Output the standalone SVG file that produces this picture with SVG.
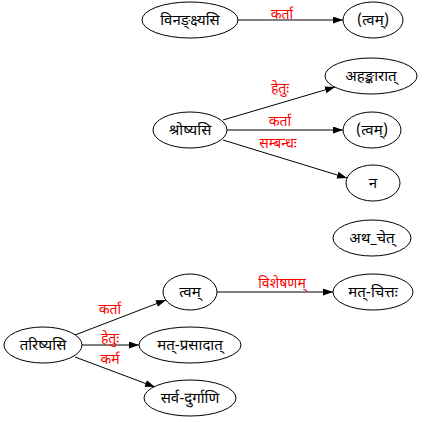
<svg xmlns="http://www.w3.org/2000/svg" width="425" height="422" viewBox="0 0 425 422">
<style>
.n ellipse{fill:#fff;stroke:#000;stroke-width:1}
text{font-family:"Noto Sans Devanagari","Noto Sans","DejaVu Sans",sans-serif;font-size:14px;text-anchor:middle;fill:#000}
.n text{font-size:15px}
.e line{stroke:#000;stroke-width:1;marker-end:url(#ah)}
.e text{fill:#ff0000}
</style>
<defs>
<marker id="ah" markerUnits="userSpaceOnUse" markerWidth="10" markerHeight="8" refX="10" refY="3.5" orient="auto">
<path d="M0,0 L10,3.5 L0,7 z" fill="#000"/>
</marker>
</defs>
<rect width="425" height="422" fill="#fff"/>
<g class="e" id="edges">
<line x1="238" y1="20" x2="343" y2="20"/>
<text x="282" y="19">कर्ता</text>
<line x1="223" y1="120" x2="335" y2="87"/>
<text x="280" y="93">हेतुः</text>
<line x1="227" y1="130" x2="343" y2="130"/>
<text x="280" y="126">कर्ता</text>
<line x1="223" y1="140" x2="347" y2="178"/>
<text x="278" y="148">सम्बन्धः</text>
<line x1="75" y1="335" x2="166" y2="300"/>
<text x="110" y="314">कर्ता</text>
<line x1="82" y1="345" x2="139" y2="345"/>
<text x="110" y="343">हेतुः</text>
<line x1="75" y1="357" x2="155" y2="387"/>
<text x="110" y="364">कर्म</text>
<line x1="217" y1="292" x2="333" y2="292"/>
<text x="282" y="288">विशेषणम्</text>
</g>
<g class="n" id="n1"><ellipse cx="190" cy="20" rx="48" ry="18"/><text x="190" y="25">विनङ्क्ष्यसि</text></g>
<g class="n" id="n2"><ellipse cx="373" cy="20" rx="30" ry="18"/><text x="373" y="25">(त्वम्)</text></g>
<g class="n" id="n3"><ellipse cx="190" cy="130" rx="37" ry="18"/><text x="190" y="135">श्रोष्यसि</text></g>
<g class="n" id="n4"><ellipse cx="371" cy="76" rx="46" ry="18"/><text x="371" y="81">अहङ्कारात्</text></g>
<g class="n" id="n5"><ellipse cx="372" cy="130" rx="29" ry="18"/><text x="372" y="135">(त्वम्)</text></g>
<g class="n" id="n6"><ellipse cx="373" cy="183" rx="27" ry="18"/><text x="373" y="188">न</text></g>
<g class="n" id="n7"><ellipse cx="372" cy="238" rx="39" ry="18"/><text x="372" y="243">अथ_चेत्</text></g>
<g class="n" id="n8"><ellipse cx="190" cy="292" rx="27" ry="18"/><text x="190" y="297">त्वम्</text></g>
<g class="n" id="n9"><ellipse cx="373" cy="292" rx="40" ry="18"/><text x="373" y="297">मत्-चित्तः</text></g>
<g class="n" id="n10"><ellipse cx="43" cy="345" rx="39" ry="18"/><text x="43" y="350">तरिष्यसि</text></g>
<g class="n" id="n11"><ellipse cx="190" cy="345" rx="51" ry="18"/><text x="190" y="350">मत्-प्रसादात्</text></g>
<g class="n" id="n12"><ellipse cx="190" cy="398" rx="46" ry="18"/><text x="190" y="403">सर्व-दुर्गाणि</text></g>
</svg>
